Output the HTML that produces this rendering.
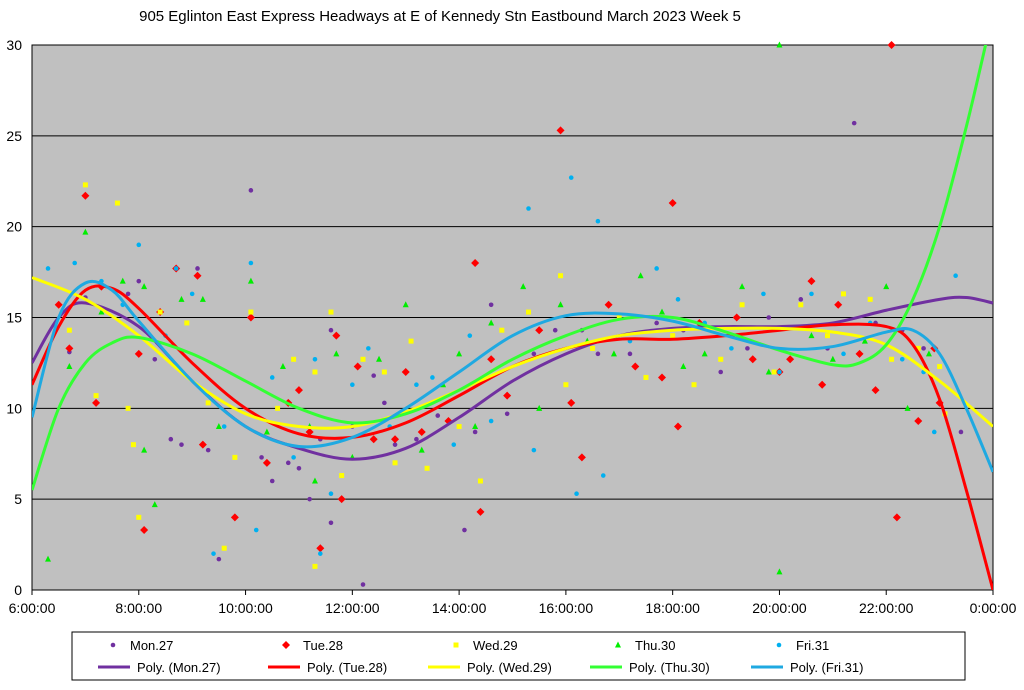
<!DOCTYPE html>
<html><head><meta charset="utf-8"><style>
body{margin:0;background:#fff;font-family:"Liberation Sans",Arial,sans-serif}
svg text{font-family:"Liberation Sans",Arial,sans-serif}
</style></head><body>
<svg id="c" width="1024" height="685">
<text x="440" y="21" font-size="15" text-anchor="middle">905 Eglinton East Express Headways at E of Kennedy Stn Eastbound March 2023  Week 5</text>
</svg>
<script>
const yTicks=[0,5,10,15,20,25,30];
const xTickLabels=["6:00:00","8:00:00","10:00:00","12:00:00","14:00:00","16:00:00","18:00:00","20:00:00","22:00:00","0:00:00"];
const seriesNames=["Mon.27","Tue.28","Wed.29","Thu.30","Fri.31"];
const monPts=[[7.0,16.1],[6.7,13.1],[7.8,16.3],[8.0,17.0],[8.3,12.7],[8.6,8.3],[8.8,8.0],[9.1,17.7],[9.5,1.7],[9.3,7.7],[10.1,22.0],[10.3,7.3],[10.5,6.0],[10.8,7.0],[11.0,6.7],[11.2,5.0],[11.4,8.3],[11.6,14.3],[11.6,3.7],[12.0,9.0],[12.2,0.3],[12.4,11.8],[12.6,10.3],[12.8,8.0],[13.2,8.3],[13.6,9.6],[14.1,3.3],[14.3,8.7],[14.6,15.7],[14.9,9.7],[15.4,13.0],[15.8,14.3],[16.3,14.3],[16.6,13.0],[17.2,13.0],[17.7,14.7],[18.2,14.3],[18.9,12.0],[19.4,13.3],[19.8,15.0],[20.4,16.0],[20.9,13.3],[21.4,25.7],[21.8,14.7],[22.3,14.3],[22.7,13.3],[23.4,8.7]];
const tuePts=[[6.5,15.7],[6.7,13.3],[7.0,21.7],[7.2,10.3],[7.3,16.7],[8.0,13.0],[8.1,3.3],[8.4,15.3],[8.7,17.7],[9.1,17.3],[9.2,8.0],[9.8,4.0],[10.1,15.0],[10.4,7.0],[10.8,10.3],[11.0,11.0],[11.2,8.7],[11.4,2.3],[11.7,14.0],[11.8,5.0],[12.1,12.3],[12.4,8.3],[12.8,8.3],[13.0,12.0],[13.3,8.7],[13.8,9.3],[14.3,18.0],[14.4,4.3],[14.6,12.7],[14.9,10.7],[15.5,14.3],[15.9,25.3],[16.1,10.3],[16.3,7.3],[16.8,15.7],[17.3,12.3],[17.8,11.7],[18.0,21.3],[18.1,9.0],[18.5,14.7],[19.2,15.0],[19.5,12.7],[20.0,12.0],[20.2,12.7],[20.6,17.0],[20.8,11.3],[21.1,15.7],[21.5,13.0],[21.8,11.0],[22.1,30.0],[22.2,4.0],[22.6,9.3],[22.9,13.3],[23.0,10.3]];
const wedPts=[[6.7,14.3],[7.0,22.3],[7.2,10.7],[7.6,21.3],[7.8,10.0],[7.9,8.0],[8.0,4.0],[8.4,15.3],[8.9,14.7],[9.3,10.3],[9.6,2.3],[9.8,7.3],[10.1,15.3],[10.6,10.0],[10.9,12.7],[11.3,1.3],[11.3,12.0],[11.6,15.3],[11.8,6.3],[12.2,12.7],[12.6,12.0],[12.8,7.0],[13.1,13.7],[13.4,6.7],[14.0,9.0],[14.4,6.0],[14.8,14.3],[15.3,15.3],[15.9,17.3],[16.0,11.3],[16.5,13.3],[17.0,15.0],[17.5,11.7],[18.0,14.0],[18.4,11.3],[18.9,12.7],[19.3,15.7],[19.9,12.0],[20.4,15.7],[20.9,14.0],[21.2,16.3],[21.7,16.0],[22.1,12.7],[22.6,13.3],[23.0,12.3],[23.1,9.7]];
const thuPts=[[6.3,1.7],[6.7,12.3],[7.0,19.7],[7.3,15.3],[7.7,17.0],[8.1,16.7],[8.1,7.7],[8.3,4.7],[8.8,16.0],[9.2,16.0],[9.5,9.0],[10.1,17.0],[10.4,8.7],[10.7,12.3],[11.2,9.0],[11.3,6.0],[11.7,13.0],[12.0,7.3],[12.5,12.7],[13.0,15.7],[13.3,7.7],[13.7,11.3],[14.0,13.0],[14.3,9.0],[14.6,14.7],[15.2,16.7],[15.5,10.0],[15.9,15.7],[16.4,13.7],[16.9,13.0],[17.4,17.3],[17.8,15.3],[18.2,12.3],[18.6,13.0],[19.3,16.7],[19.8,12.0],[20.0,30.0],[20.0,1.0],[20.6,14.0],[21.0,12.7],[21.6,13.7],[22.0,16.7],[22.4,10.0],[22.8,13.0]];
const friPts=[[6.3,17.7],[6.8,18.0],[7.3,17.0],[7.7,15.7],[8.0,19.0],[8.5,14.0],[8.7,17.7],[9.0,16.3],[9.4,2.0],[9.6,9.0],[10.1,18.0],[10.2,3.3],[10.5,11.7],[10.9,7.3],[11.3,12.7],[11.4,2.0],[11.6,5.3],[12.0,11.3],[12.3,13.3],[12.7,9.0],[13.2,11.3],[13.5,11.7],[13.9,8.0],[14.2,14.0],[14.6,9.3],[15.3,21.0],[15.4,7.7],[16.1,22.7],[16.2,5.3],[16.6,20.3],[16.7,6.3],[17.2,13.7],[17.7,17.7],[18.1,16.0],[18.6,14.7],[19.1,13.3],[19.7,16.3],[20.0,12.0],[20.6,16.3],[21.2,13.0],[21.7,14.7],[22.3,12.7],[22.7,12.0],[22.9,8.7],[23.3,17.3]];
const monFit=[[6,12.5],[6.5,15],[7,15.8],[8,14.5],[9,11.5],[10,9],[11,7.8],[12,7.2],[13,7.8],[14,9.5],[15,11.5],[16,13],[17,14],[18,14.4],[19,14.5],[20,14.5],[21,14.7],[22,15.4],[23,16.0],[23.5,16.1],[24,15.8]];
const tueFit=[[6,11.3],[6.5,14.5],[7,16.5],[7.5,16.6],[8,15.5],[9,12.5],[10,10],[11,8.6],[12,8.4],[13,9.2],[14,10.7],[15,12.3],[16,13.3],[17,13.8],[18,13.8],[19,14],[20,14.3],[21,14.6],[22,14.5],[22.5,13.5],[23,10.5],[23.5,5.5],[24,0]];
const wedFit=[[6,17.2],[7,16.0],[8,14.0],[9,11.5],[10,9.7],[11,9.0],[12,9.0],[13,9.8],[14,11.0],[15,12.3],[16,13.3],[17,14.0],[18,14.3],[19,14.4],[20,14.4],[21,14.2],[22,13.5],[23,11.5],[24,9.0]];
const thuFit=[[6,5.5],[6.5,10],[7,12.5],[7.5,13.6],[8,13.9],[9,13],[10,11.5],[11,10],[12,9.2],[13,9.7],[14,11],[15,12.7],[16,14],[17,14.9],[18,15],[19,14.2],[20,13.2],[21,12.4],[21.5,12.5],[22,13.5],[22.5,16],[23,20],[23.5,25.5],[23.9,30.5]];
const friFit=[[6,9.5],[6.5,15],[7,16.9],[7.5,16.5],[8,14.8],[9,11.5],[10,9.0],[11,7.9],[12,8.4],[13,10],[14,12],[15,14],[16,15.1],[17,15.2],[18,14.8],[19,14.0],[20,13.3],[21,13.4],[22,14.2],[22.5,14.3],[23,13],[23.5,10],[24,6.5]];

const NS="http://www.w3.org/2000/svg";
const svg=document.getElementById('c');
const L=32,R=993,T=45,B=590;
const xs=h=>L+(h-6)/18*(R-L);
const ys=v=>B-v/30*(B-T);
function mk(tag,attrs,parent){const e=document.createElementNS(NS,tag);for(const k in attrs)e.setAttribute(k,attrs[k]);(parent||svg).appendChild(e);return e;}
const bg=mk('rect',{x:L,y:T,width:R-L,height:B-T,fill:'#c0c0c0'});


yTicks.forEach(v=>{
 const g=mk('line',{x1:L,x2:R,y1:ys(v),y2:ys(v),stroke:'#000','stroke-width':1});
 
 
 const t=mk('text',{x:22,y:ys(v)+5,'font-size':14,'text-anchor':'end'});t.textContent=v;
 
 
});
xTickLabels.forEach((s,i)=>{
 const x=xs(6+i*2);
 mk('line',{x1:x,x2:x,y1:B,y2:B+5,stroke:'#000'});
 const t=mk('text',{x:x,y:613,'font-size':14,'text-anchor':'middle'});t.textContent=s;
 
 
});
mk('rect',{x:L,y:T,width:R-L,height:B-T,fill:'none',stroke:'#000','stroke-width':1});
const cols=['#7030a0','#ff0000','#ffff00','#00ee00','#00b0f0'];
const lineCols=['#7030a0','#ff0000','#ffff00','#33ff33','#1fa9e1'];
const allPts=[monPts,tuePts,wedPts,thuPts,friPts];
const allFits=[monFit,tueFit,wedFit,thuFit,friFit];
function marker(i,x,y,parent){
 let e;
 if(i===0||i===4)e=mk('circle',{cx:x,cy:y,r:2.3,fill:cols[i]},parent);
 else if(i===1)e=mk('polygon',{points:`${x},${y-4} ${x+4},${y} ${x},${y+4} ${x-4},${y}`,fill:cols[i]},parent);
 else if(i===2)e=mk('rect',{x:x-2.5,y:y-2.5,width:5,height:5,fill:cols[i]},parent);
 else e=mk('polygon',{points:`${x},${y-3.5} ${x+3},${y+2.5} ${x-3},${y+2.5}`,fill:cols[i]},parent);
 return e;
}
mk('clipPath',{id:'clp'}).appendChild(Object.assign(document.createElementNS(NS,'rect'),{}));
document.querySelector('#clp rect').setAttribute('x',L);document.querySelector('#clp rect').setAttribute('y',T);
document.querySelector('#clp rect').setAttribute('width',R-L);document.querySelector('#clp rect').setAttribute('height',B-T);
allPts.forEach((pts,i)=>{
 const g=mk('g',{});
 
 
 pts.forEach(p=>marker(i,xs(p[0]),ys(p[1]),g));
});
function smooth(pts){
 const P=pts.map(p=>[xs(p[0]),ys(p[1])]);
 let d=`M${P[0][0]},${P[0][1]}`;
 for(let i=0;i<P.length-1;i++){
  const p0=P[Math.max(0,i-1)],p1=P[i],p2=P[i+1],p3=P[Math.min(P.length-1,i+2)];
  d+=` C${p1[0]+(p2[0]-p0[0])/6},${p1[1]+(p2[1]-p0[1])/6} ${p2[0]-(p3[0]-p1[0])/6},${p2[1]-(p3[1]-p1[1])/6} ${p2[0]},${p2[1]}`;
 }
 return d;
}
allFits.forEach((f,i)=>{
 const p=mk('path',{d:smooth(f),fill:'none',stroke:lineCols[i],'stroke-width':3,'clip-path':'url(#clp)'});
 
 
});
// legend
const lg=mk('g',{});


mk('rect',{x:72,y:632,width:893,height:48,fill:'#fff',stroke:'#000'},lg);
const mX=[113,286,456,618,779],lX=[98,268,428,590,751];
seriesNames.forEach((n,i)=>{
 marker(i,mX[i],645,lg);
 const t=mk('text',{x:mX[i]+17,y:650,'font-size':13},lg);t.textContent=n;
 
 
 mk('line',{x1:lX[i],x2:lX[i]+32,y1:667,y2:667,stroke:lineCols[i],'stroke-width':3},lg);
 const t2=mk('text',{x:lX[i]+39,y:672,'font-size':13},lg);t2.textContent='Poly. ('+n+')';
 
 
});
</script>
</body></html>
